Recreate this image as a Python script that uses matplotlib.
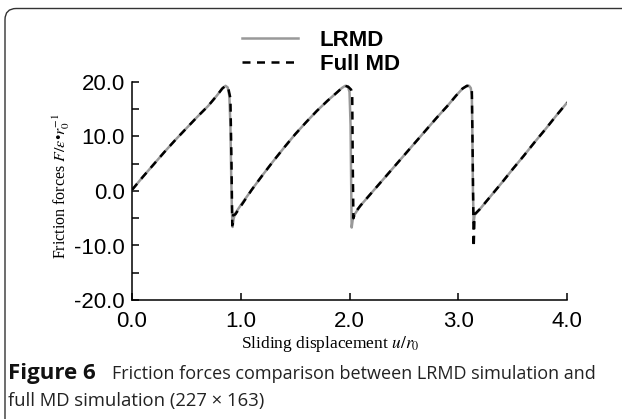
import matplotlib
matplotlib.use("Agg")
import matplotlib.pyplot as plt
from matplotlib.patches import FancyBboxPatch

# LRMD (gray solid)
u_lrmd = [0.0, 0.1, 0.2, 0.3, 0.4, 0.5, 0.6, 0.7, 0.78, 0.83, 0.86, 0.88, 0.895, 0.905, 0.912, 0.918, 0.925, 0.935, 0.95,
          1.0, 1.1, 1.2, 1.3, 1.4, 1.5, 1.6, 1.7, 1.8, 1.88, 1.93, 1.96, 1.985, 2.0, 2.01, 2.015, 2.02, 2.03, 2.05,
          2.1, 2.2, 2.3, 2.4, 2.5, 2.6, 2.7, 2.8, 2.9, 2.98, 3.04, 3.08, 3.10, 3.115, 3.125, 3.13, 3.135, 3.142, 3.15,
          3.2, 3.3, 3.4, 3.5, 3.6, 3.7, 3.8, 3.9, 4.0]
f_lrmd = [0.2, 2.6, 4.9, 7.2, 9.4, 11.5, 13.6, 15.6, 17.5, 18.8, 19.3, 19.0, 17.5, 12.0, 3.0, -3.0, -6.6, -5.0, -4.1,
          -2.6, 0.2, 2.9, 5.5, 8.0, 10.4, 12.6, 14.7, 16.6, 18.0, 18.9, 19.3, 19.2, 18.2, 12.0, 2.0, -6.7, -5.2, -4.2,
          -2.7, -0.4, 1.9, 4.2, 6.5, 8.8, 11.1, 13.4, 15.6, 17.5, 18.8, 19.3, 19.3, 18.9, 17.5, 10.0, 0.0, -5.8, -4.4,
          -3.3, -0.9, 1.5, 4.0, 6.4, 8.9, 11.3, 13.8, 16.2]

# Full MD (black dashed)
u_full = [0.0, 0.1, 0.2, 0.3, 0.4, 0.5, 0.6, 0.7, 0.78, 0.83, 0.86, 0.885, 0.905, 0.915, 0.922, 0.93, 0.95,
          1.0, 1.1, 1.2, 1.3, 1.4, 1.5, 1.6, 1.7, 1.8, 1.88, 1.93, 1.96, 1.99, 2.015, 2.025, 2.03, 2.036, 2.05,
          2.1, 2.2, 2.3, 2.4, 2.5, 2.6, 2.7, 2.8, 2.9, 2.98, 3.04, 3.08, 3.105, 3.125, 3.132, 3.138, 3.142, 3.15, 3.16,
          3.2, 3.3, 3.4, 3.5, 3.6, 3.7, 3.8, 3.9, 4.0]
f_full = [0.2, 2.6, 4.9, 7.2, 9.4, 11.5, 13.6, 15.6, 17.5, 18.8, 19.3, 18.9, 17.0, 5.0, -6.3, -4.4, -4.3,
          -2.8, 0.2, 2.9, 5.5, 8.0, 10.4, 12.6, 14.7, 16.6, 18.0, 18.9, 19.3, 19.1, 18.6, 17.8, 5.0, -5.0, -4.0,
          -2.7, -0.4, 1.9, 4.2, 6.5, 8.8, 11.1, 13.4, 15.6, 17.5, 18.8, 19.3, 19.2, 18.5, 8.0, -3.0, -10.3, -4.3, -4.1,
          -3.3, -0.9, 1.5, 4.0, 6.4, 8.9, 11.3, 13.8, 16.2]

xticks = [0.0, 1.0, 2.0, 3.0, 4.0]
yticks = [-20.0, -10.0, 0.0, 10.0, 20.0]
yminor = [-15.0, -5.0, 5.0, 15.0]

W, H = 622, 419
fig = plt.figure(figsize=(W / 100, H / 100), dpi=100)
plt.rcParams['mathtext.fontset'] = 'stix'

# frame around the figure panel (right and bottom edges fall outside the image)
box = FancyBboxPatch((5 / W, -20 / H), 700 / W, (H - 8.5 + 20) / H,
                     boxstyle="round,pad=0,rounding_size=0.018",
                     transform=fig.transFigure, fill=False, edgecolor='#333333', lw=1.0,
                     mutation_aspect=W / H)
fig.patches.append(box)

ax = fig.add_axes([132 / W, 1 - 300 / H, 435 / W, 218 / H])
ax.plot(u_lrmd, f_lrmd, color='#999999', lw=1.8, label='LRMD')
ax.plot(u_full, f_full, color='black', lw=1.8, ls=(0, (3.2, 2.6)), label='Full MD')

ax.set_xlim(0, 4)
ax.set_ylim(-20, 20)
ax.set_xticks(xticks)
ax.set_yticks(yticks)
ax.set_yticks(yminor, minor=True)
ax.set_xticklabels(['%.1f' % v for v in xticks], fontsize=16, family='Liberation Sans')
ax.set_yticklabels(['%.1f' % v for v in yticks], fontsize=16, family='Liberation Sans')
ax.tick_params(direction='in', length=5, width=1.1, pad=5)
ax.tick_params(axis='x', pad=8)
ax.tick_params(which='minor', direction='in', length=5, width=1.1)
for s in ['top', 'right']:
    ax.spines[s].set_visible(False)
for s in ['left', 'bottom']:
    ax.spines[s].set_linewidth(1.1)

fig.text(61 / W, 1 - 186 / H, r'Friction forces $F/\varepsilon$•$r_0^{-1}$', rotation=90,
         ha='center', va='center', fontsize=11.5, family='Liberation Serif')
fig.text(330 / W, 1 - 344 / H, r'Sliding displacement $u/r_0$',
         ha='center', va='center', fontsize=12.5, family='Liberation Serif')

fig.legend(loc='upper left', bbox_to_anchor=(231 / W, 1 - 19 / H), frameon=False,
           prop={'family': 'Liberation Sans', 'weight': 'bold', 'size': 16},
           handlelength=2.5, handletextpad=1.0, labelspacing=0.12, borderpad=0)

fig.text(8 / W, 1 - 379 / H, 'Figure 6', fontsize=16, weight='bold', family='Open Sans',
         ha='left', va='baseline', color='#111111')
fig.text(112 / W, 1 - 379 / H, 'Friction forces comparison between LRMD simulation and',
         fontsize=13, family='Open Sans', ha='left', va='baseline', color='#222222')
fig.text(8 / W, 1 - 406 / H, 'full MD simulation (227 \u00d7 163)',
         fontsize=13.3, family='Open Sans', ha='left', va='baseline', color='#222222')

fig.savefig('out.png', dpi=100)
